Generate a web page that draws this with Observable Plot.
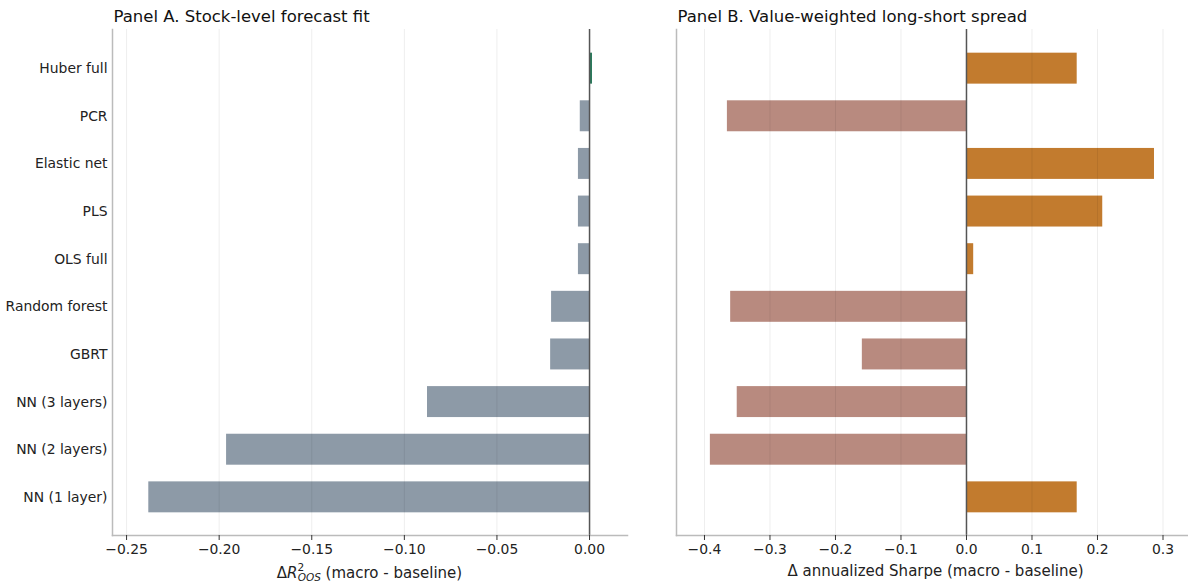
<!DOCTYPE html>
<html><head><meta charset="utf-8">
<script src="https://cdn.jsdelivr.net/npm/d3@7"></script>
<script src="https://cdn.jsdelivr.net/npm/@observablehq/plot@0.6"></script>
<style>
body{margin:0;background:#fff;font-family:"DejaVu Sans",sans-serif}
#wrap{display:flex;width:1188px;height:584px}
</style>
</head><body><div id="wrap"></div>
<script>
const models = ["Huber full","PCR","Elastic net","PLS","OLS full","Random forest","GBRT","NN (3 layers)","NN (2 layers)","NN (1 layer)"];
const deltaR2 = [0.0016,-0.0050,-0.0060,-0.0060,-0.0060,-0.0205,-0.0210,-0.0875,-0.1960,-0.2380];
const deltaSharpe = [0.169,-0.365,0.287,0.208,0.011,-0.360,-0.159,-0.350,-0.391,0.169];
const ticksA = [-0.25,-0.2,-0.15,-0.1,-0.05,0];
const ticksB = [-0.4,-0.3,-0.2,-0.1,0,0.1,0.2,0.3];
const titleA = "Panel A. Stock-level forecast fit";
const titleB = "Panel B. Value-weighted long-short spread";

function panel({values, title, ticks, fmt, domain, width, marginLeft, marginRight, showY, pos, neg}) {
  const data = models.map((m, i) => ({model: m, value: values[i]}));
  return Plot.plot({
    width, height: 584,
    marginTop: 29, marginBottom: 49, marginLeft, marginRight,
    style: {fontFamily: "DejaVu Sans", fontSize: "13.9px", color: "#222", background: "#fff", overflow: "visible"},
    x: {domain, ticks, tickFormat: fmt, label: null},
    y: {domain: models, padding: 0.35, insetTop: 7, insetBottom: 6, round: false, label: null, axis: showY ? undefined : null},
    color: {type: "identity"},
    marks: [
      Plot.barX(data, {x: "value", y: "model", fill: d => d.value >= 0 ? pos : neg}),
      Plot.gridX(ticks, {stroke: "#000", strokeOpacity: 0.07, strokeWidth: 1}),
      Plot.ruleX([0], {stroke: "#555", strokeWidth: 1.5}),
      Plot.frame({anchor: "left", stroke: "#bbb", strokeWidth: 1.5}),
      Plot.frame({anchor: "bottom", stroke: "#bbb", strokeWidth: 1.5}),
      Plot.axisX(ticks, {tickSize: 5, tickPadding: 4, fontSize: 13.9, tickFormat: fmt, stroke: "#333", label: null}),
      showY ? Plot.axisY({tickSize: 0, tickPadding: 5, fontSize: 13.9, label: null}) : null,
      Plot.text([title], {frameAnchor: "top-left", lineAnchor: "bottom", textAnchor: "start", dx: 1, dy: -8, fontSize: 16.5, fill: "#111"})
    ]
  });
}

const fmtA = d3.format(".2f");
const fmtB = d3.format(".1f");

const a = panel({values: deltaR2, title: titleA, ticks: ticksA, fmt: fmtA, domain: [-0.2576, 0.0205],
  width: 640, marginLeft: 112, marginRight: 13, showY: true, pos: "#2b7a5c", neg: "#8d9aa7"});
const b = panel({values: deltaSharpe, title: titleB, ticks: ticksB, fmt: fmtB, domain: [-0.4427, 0.3374],
  width: 548, marginLeft: 36, marginRight: 1, showY: false, pos: "#c27b2e", neg: "#b88a7f"});

document.getElementById("wrap").append(a, b);

// axis labels
const la = d3.select(a).append("text").attr("x", 369.5).attr("y", 578)
  .attr("text-anchor", "middle").attr("font-size", 15).attr("fill", "#222");
la.append("tspan").text("Δ");
la.append("tspan").attr("font-style", "italic").text("R");
la.append("tspan").attr("font-size", 10.5).attr("dy", -7).text("2");
la.append("tspan").attr("font-size", 10.5).attr("font-style", "italic").attr("dx", -6.6).attr("dy", 10).text("OOS");
la.append("tspan").attr("dy", -3).text(" (macro - baseline)");

d3.select(b).append("text").attr("x", 295.5).attr("y", 576)
  .attr("text-anchor", "middle").attr("font-size", 15).attr("fill", "#222")
  .text("Δ annualized Sharpe (macro - baseline)");
</script>
</body></html>
